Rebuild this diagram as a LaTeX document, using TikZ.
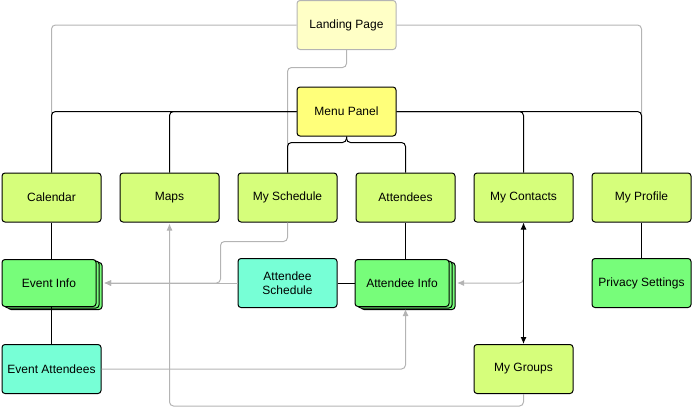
\documentclass[tikz,border=0pt]{standalone}
\usepackage{fontspec}
\setmainfont{Liberation Sans}
\usetikzlibrary{arrows.meta, calc, shadows}

\definecolor{landfill}{HTML}{FFFFC6}
\definecolor{menufill}{HTML}{FFFF7A}
\definecolor{limefill}{HTML}{D6FE7B}
\definecolor{greenfill}{HTML}{77FD7A}
\definecolor{aquafill}{HTML}{77FFD6}
\definecolor{linegray}{HTML}{B4B4B4}

\begin{document}
\begin{tikzpicture}[x=1pt, y=-1pt, font=\fontsize{12}{14}\selectfont,
	box/.style={draw, line width=1pt, rounded corners=3pt, minimum width=99pt, minimum height=49pt, inner sep=1pt, align=center, fill=#1},
	stackbox/.style={box=#1, minimum width=94pt, minimum height=47pt,
		general shadow={shadow xshift=6pt, shadow yshift=-3pt, fill=#1, draw, line width=1pt},
		general shadow={shadow xshift=3pt, shadow yshift=-1.5pt, fill=#1, draw, line width=1pt}},
	link/.style={draw=black, line width=1pt, rounded corners=4pt},
	glink/.style={draw=linegray, line width=1pt, rounded corners=4pt},
	>={Latex[length=7pt, width=6pt]}]

	\useasboundingbox (0,0) rectangle (692,407);

	% Top pages
	\node[box=landfill, draw=linegray] (landing) at (346.5,25) {Landing Page};
	\node[box=menufill] (menu) at (346.5,111.5) {Menu Panel};

	% Main sections
	\node[box=limefill] (cal) at (51.5,197.5) {Calendar};
	\node[box=limefill] (maps) at (169.5,197.5) {Maps};
	\node[box=limefill] (sched) at (287.5,197.5) {My Schedule};
	\node[box=limefill] (att) at (405.5,197.5) {Attendees};
	\node[box=limefill] (contacts) at (523.5,197.5) {My Contacts};
	\node[box=limefill] (profile) at (641.5,197.5) {My Profile};

	% Detail pages
	\node[stackbox=greenfill] (einfo) at (49,283) {Event Info};
	\node[box=aquafill] (asched) at (287.5,283) {Attendee\\Schedule};
	\node[stackbox=greenfill] (ainfo) at (402,283) {Attendee Info};
	\node[box=greenfill] (privacy) at (641.5,283) {Privacy Settings};
	\node[box=aquafill] (evatt) at (51.5,369) {Event Attendees};
	\node[box=limefill] (groups) at (523.5,369) {My Groups};

	% Links from the landing page
	\draw[glink] (landing.west) -| (cal.north);
	\draw[glink] (landing.east) -| (profile.north);
	\draw[glink] (landing.south) |- ([yshift=105pt]sched.north) -- (sched.north);

	% Menu panel tree
	\draw[link] (menu.west) -| (cal.north);
	\draw[link] (menu.west) -| (maps.north);
	\draw[link] (menu.east) -| (contacts.north);
	\draw[link] (menu.east) -| (profile.north);
	\draw[link] (menu.south) |- ([yshift=30pt]sched.north) -- (sched.north);
	\draw[link] (menu.south) |- ([yshift=30pt]att.north) -- (att.north);

	% Cross links
	\draw[glink, ->] (sched.south) -- ++(0,19) -| ([xshift=1pt]maps.east |- einfo.east) -- ([xshift=7.5pt]einfo.east);
	\draw[glink, ->] (asched.west) -- ([xshift=7.5pt]einfo.east);
	\draw[glink, ->] (contacts.south) |- ([xshift=7.5pt]ainfo.east);
	\draw[glink, ->] (evatt.east) -| ([yshift=-2pt]att.south |- ainfo.south);
	\draw[glink, ->] (groups.south) -- ++(0,12) -| ([yshift=-1pt]maps.south);

	% Page hierarchy
	\draw[link] (cal.south) -- (cal.south |- einfo.north);
	\draw[link] (cal.south |- einfo.south) -- (evatt.north);
	\draw[link] (att.south) -- (att.south |- ainfo.north);
	\draw[link] (asched.east) -- (ainfo.west);
	\draw[link] (profile.south) -- (privacy.north);
	\draw[link, <->] (contacts.south) -- (groups.north);

\end{tikzpicture}
\end{document}
